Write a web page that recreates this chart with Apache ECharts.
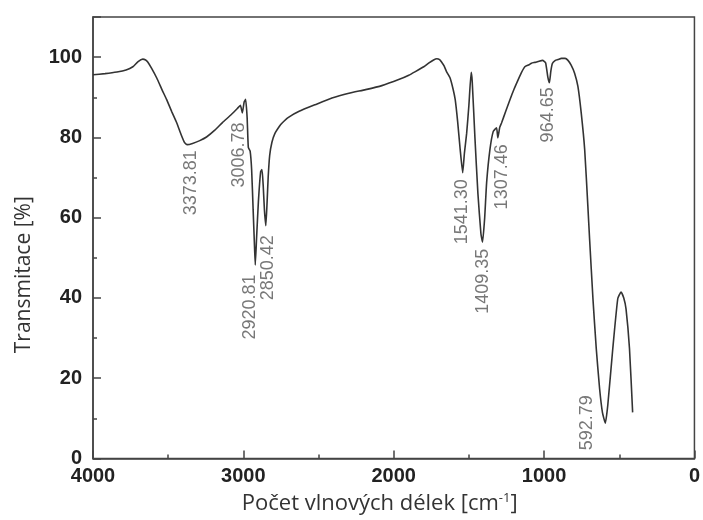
<!DOCTYPE html>
<html>
<head>
<meta charset="utf-8">
<script src="https://cdn.jsdelivr.net/npm/echarts@6/dist/echarts.min.js"></script>
<style>
  html, body { margin: 0; padding: 0; background: #fff; }
  #chart { width: 703px; height: 520px; }
</style>
</head>
<body>
<div id="chart"></div>
<script>
// ---- Data ----
var wavenumbers = [4000, 3920, 3841, 3780, 3735, 3700, 3669, 3650, 3636, 3610, 3576, 3540, 3510, 3475, 3444, 3415, 3391, 3373.81, 3338, 3290, 3245, 3190, 3139, 3080, 3040, 3020, 3006.78, 2995, 2985, 2975, 2967, 2955, 2945, 2935, 2927, 2920.81, 2912, 2900, 2885, 2876, 2868, 2860, 2850.42, 2842, 2835, 2825, 2810, 2790, 2760, 2742, 2700, 2629, 2519, 2411, 2298, 2187, 2079, 1967, 1900, 1856, 1800, 1768, 1735, 1713, 1695, 1682, 1665, 1649, 1625, 1605, 1591, 1575, 1558, 1541.30, 1530, 1515, 1500, 1485, 1478, 1460, 1440, 1420, 1409.35, 1395, 1382, 1360, 1338, 1316, 1307.46, 1295, 1283, 1255, 1227, 1200, 1172, 1150, 1128, 1100, 1084, 1060, 1040, 1010, 990, 975, 964.65, 955, 945, 925, 907, 885, 860, 841, 820, 797, 775, 753, 730, 709, 697, 675, 653, 631, 612, 592.79, 576, 543, 510, 488, 470, 455, 432, 411];
var transmittance = [95.6, 95.9, 96.3, 96.8, 97.6, 98.9, 99.5, 99.3, 98.8, 97.2, 94.8, 91.8, 89.4, 86.3, 83.7, 80.8, 78.7, 78.2, 78.5, 79.2, 80.1, 81.8, 83.7, 85.7, 87.2, 88.0, 86.1, 88.8, 89.5, 85, 77.5, 76.6, 72, 62, 54, 48.2, 55, 64, 71.5, 72, 68, 62, 58, 64, 70, 75.5, 78.8, 81, 82.8, 83.6, 85, 86.5, 88.2, 89.8, 91, 91.9, 92.9, 94.4, 95.5, 96.4, 97.6, 98.5, 99.3, 99.6, 99.4, 98.8, 97.8, 96.4, 94.8, 92, 89.4, 84, 77, 71.2, 76, 81, 88, 96.2, 94, 80, 66, 56, 53.9, 60, 68.8, 77, 81.5, 82.4, 79.9, 82.5, 83.6, 86.5, 89.4, 92, 94.4, 96.2, 97.6, 98.1, 98.5, 98.7, 98.9, 99.2, 98.6, 95, 93.6, 96.5, 98.4, 99.2, 99.4, 99.7, 99.7, 99.2, 98, 96, 92.7, 86.1, 77, 63, 54.5, 39.8, 27.4, 17.5, 11.5, 8.8, 13.4, 27.4, 39.8, 41.5, 40, 37.3, 27.4, 11.5];

var peakWavenumbers = [3373.81, 3006.78, 2920.81, 2850.42, 1541.30, 1409.35, 1307.46, 964.65, 592.79];
var peakTransmittance = [78.2, 86.1, 48.2, 58, 71.2, 53.9, 79.9, 93.6, 8.8];
var peakLabels = ['3373.81', '3006.78', '2920.81', '2850.42', '1541.30', '1409.35', '1307.46', '964.65', '592.79'];

var xTicks = [4000, 3000, 2000, 1000, 0];
var yTicks = [0, 20, 40, 60, 80, 100];

// ---- Label placement (styling only): [dx, dy, side] ----
var peakLabelPlacement = [
  [4, 6, 'below'], [-3, 10, 'below'], [-5, 10, 'below'], [3, 10, 'below'],
  [0, 7, 'below'], [1, 7, 'below'], [5, 7, 'below'], [-1, 5, 'below'],
  [-9, 0, 'left']
];

var spectrum = wavenumbers.map(function (w, i) { return [w, transmittance[i]]; });
var peaks = peakWavenumbers.map(function (w, i) {
  var p = peakLabelPlacement[i];
  var below = p[2] === 'below';
  return {
    value: [w, peakTransmittance[i]],
    label: {
      formatter: peakLabels[i],
      position: [p[0], p[1]],
      align: below ? 'right' : 'center',
      verticalAlign: below ? 'middle' : 'bottom'
    }
  };
});

var chart = echarts.init(document.getElementById('chart'), null, { renderer: 'canvas' });
var tickFont = { fontFamily: 'Liberation Sans, Arial, sans-serif', fontWeight: 'bold', fontSize: 20, color: '#222' };

chart.setOption({
  animation: false,
  backgroundColor: '#fff',
  grid: { left: 93, right: 6, top: 17, bottom: 59, show: true, borderColor: '#444', borderWidth: 1.5, backgroundColor: 'transparent' },
  xAxis: {
    type: 'value', inverse: true, min: 0, max: 4000, interval: 1000,
    name: '{a|Počet vlnových délek [cm}{s|-1}{a|]}',
    nameLocation: 'middle', nameGap: 33,
    nameTextStyle: {
      padding: [0, 28, 0, 0],
      rich: {
        a: { fontFamily: 'Open Sans, sans-serif', fontSize: 22, color: '#333' },
        s: { fontFamily: 'Open Sans, sans-serif', fontSize: 13, color: '#333', padding: [0, 0, 12, 0] }
      }
    },
    axisLine: { show: true, onZero: false, lineStyle: { color: '#444', width: 1.5 } },
    axisTick: { show: true, inside: true, length: 8, lineStyle: { color: '#444', width: 1.5 } },
    minorTick: { show: true, splitNumber: 2, length: 4, lineStyle: { color: '#444', width: 1.5 } },
    splitLine: { show: false },
    axisLabel: Object.assign({ margin: 8, formatter: function (v) { return xTicks.indexOf(v) >= 0 ? String(v) : ''; } }, tickFont)
  },
  yAxis: {
    type: 'value', min: 0, max: 110, interval: 20,
    name: 'Transmitace [%]',
    nameLocation: 'middle', nameGap: 58,
    nameTextStyle: { fontFamily: 'Open Sans, sans-serif', fontSize: 21, color: '#333', padding: [0, 74, 0, 0] },
    axisLine: { show: true, onZero: false, lineStyle: { color: '#444', width: 1.5 } },
    axisTick: { show: true, inside: true, length: 8, lineStyle: { color: '#444', width: 1.5 } },
    minorTick: { show: true, splitNumber: 2, length: 4, lineStyle: { color: '#444', width: 1.5 } },
    splitLine: { show: false },
    axisLabel: Object.assign({ margin: 11, formatter: function (v) { return yTicks.indexOf(v) >= 0 ? String(v) : ''; } }, tickFont)
  },
  series: [
    {
      type: 'line', data: spectrum, showSymbol: false, symbol: 'none',
      smooth: 0.15,
      lineStyle: { color: '#333', width: 1.6 },
      z: 2
    },
    {
      type: 'scatter', data: peaks, symbolSize: 1,
      itemStyle: { color: 'rgba(0,0,0,0)' },
      label: {
        show: true, rotate: 90,
        fontFamily: 'Liberation Sans, Arial, sans-serif', fontSize: 18, color: '#555'
      },
      z: 3, silent: true
    }
  ]
});
</script>
</body>
</html>
